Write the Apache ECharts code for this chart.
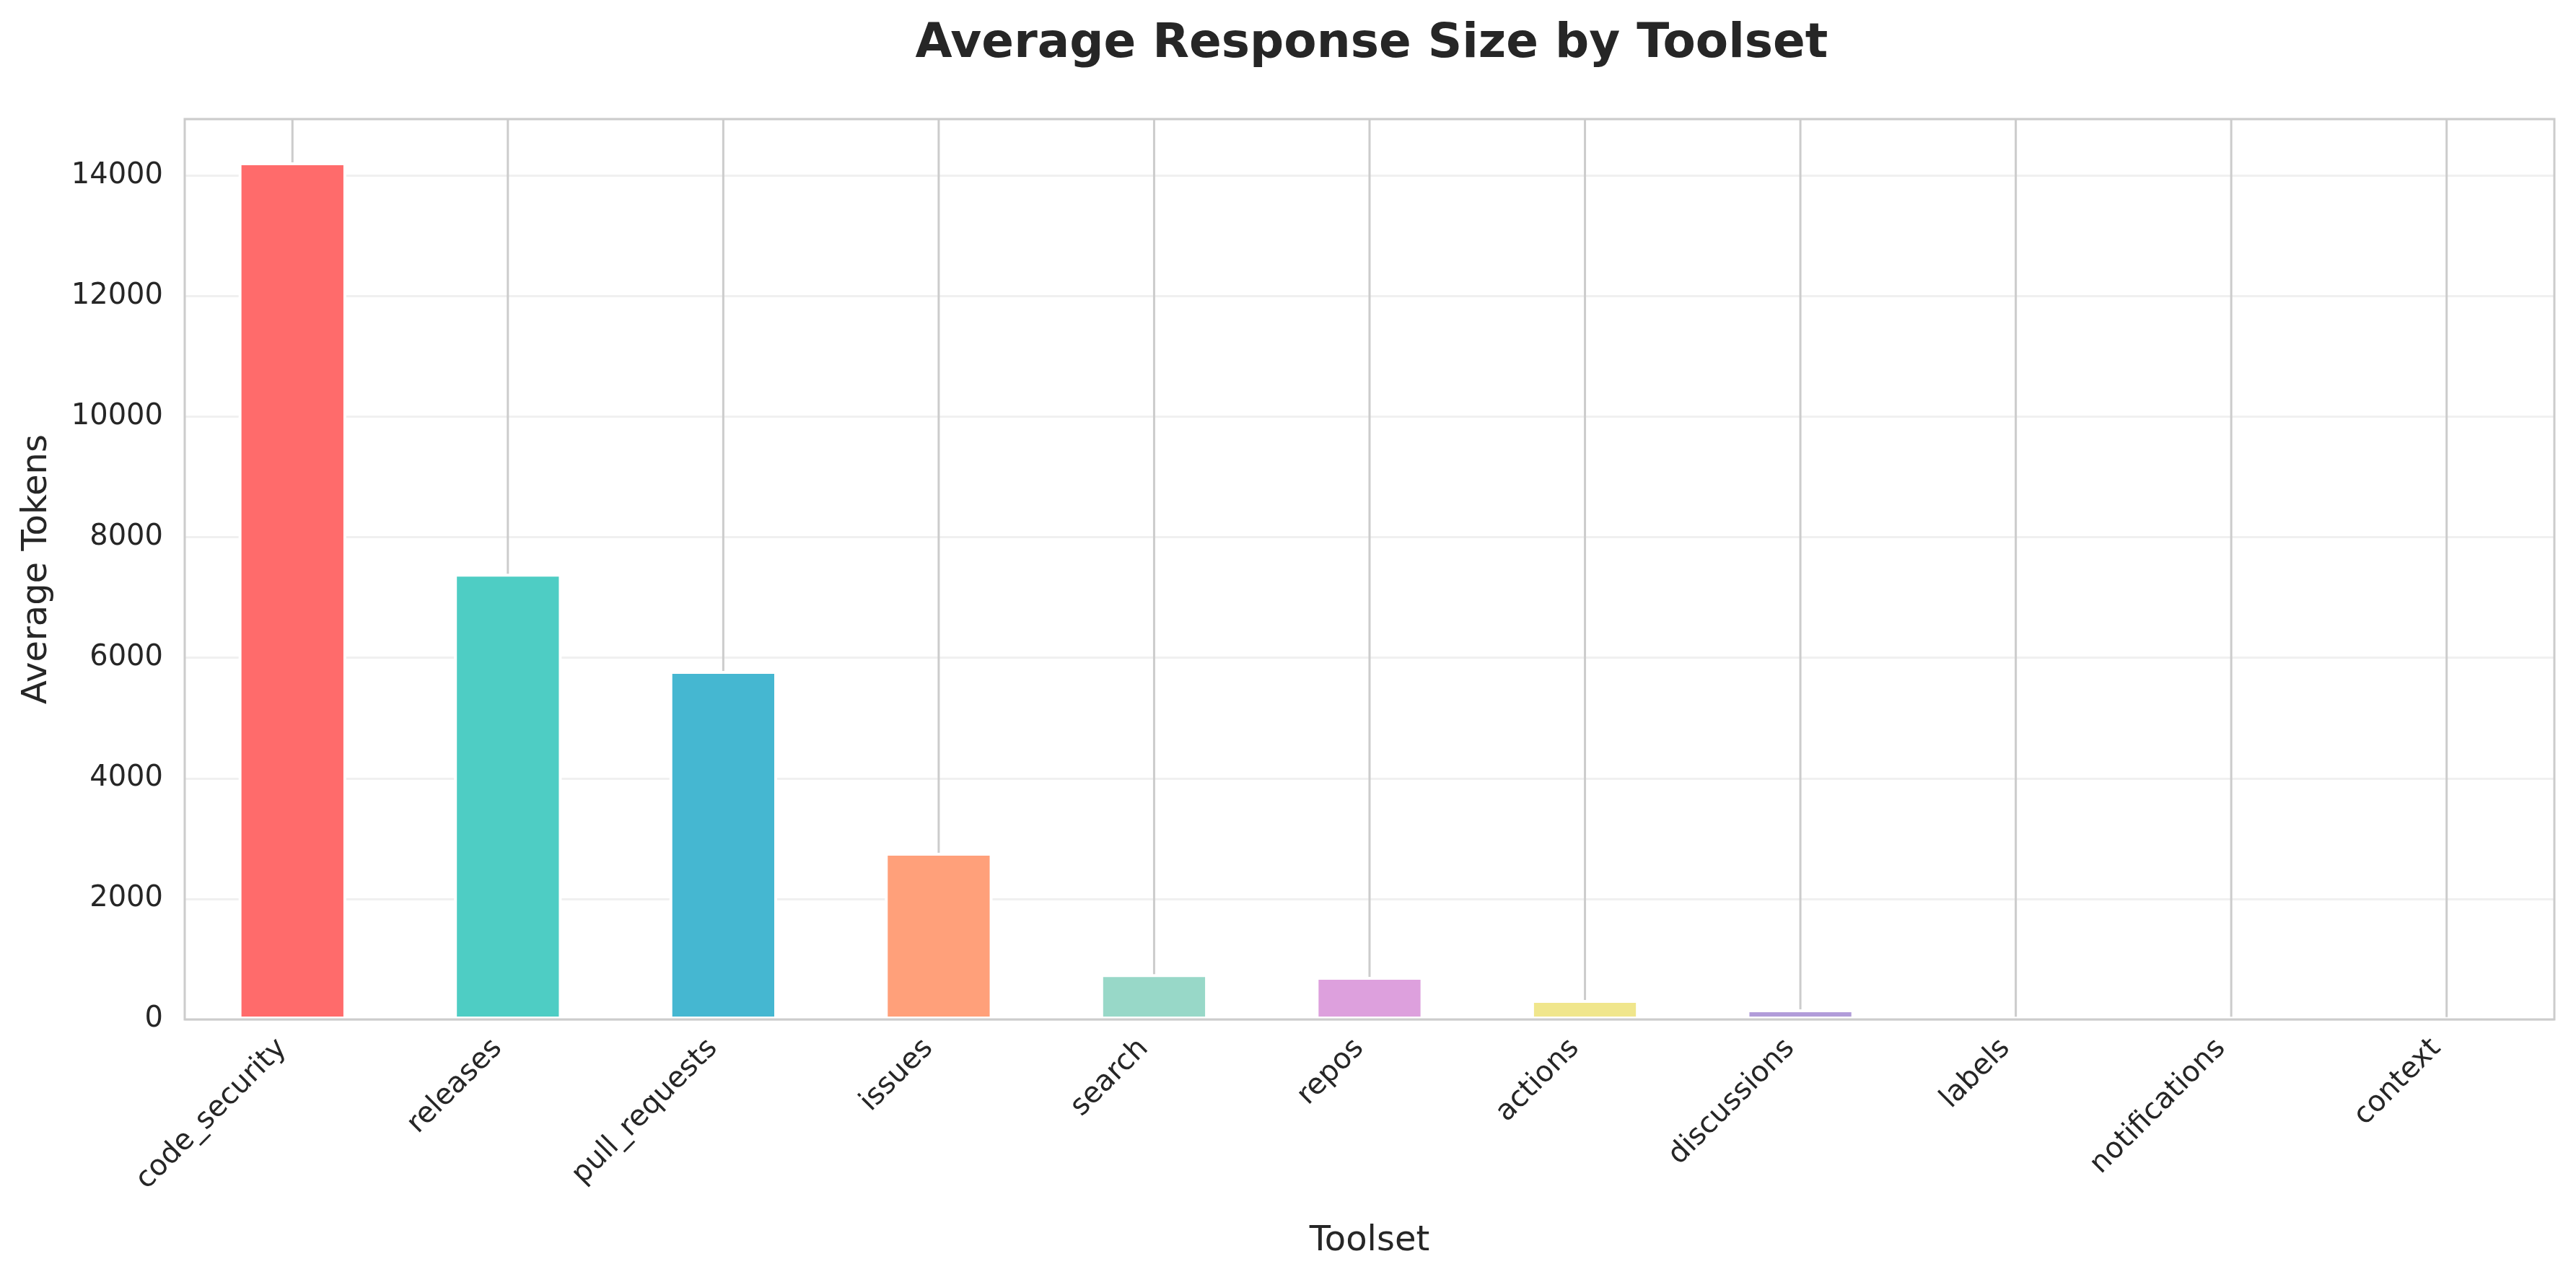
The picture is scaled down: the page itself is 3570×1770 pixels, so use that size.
<!DOCTYPE html>
<html>
<head>
<meta charset="utf-8">
<script src="https://cdn.jsdelivr.net/npm/echarts@6/dist/echarts.min.js"></script>
<style>
  html, body { margin: 0; padding: 0; background: #fff; }
  #chart { width: 3570px; height: 1770px; }
</style>
</head>
<body>
<div id="chart"></div>
<script>
const categories = ['code_security', 'releases', 'pull_requests', 'issues', 'search', 'repos', 'actions', 'discussions', 'labels', 'notifications', 'context'];
const avgTokens = [14220, 7395, 5780, 2765, 752, 706, 323, 168, 40, 40, 28];
const barColors = ['#FF6B6B', '#4ECDC4', '#45B7D1', '#FFA07A', '#98D8C8', '#DDA0DD', '#F0E68C', '#B19CD9', '#85C1E9', '#F8B739', '#52B788'];
const yTicks = [0, 2000, 4000, 6000, 8000, 10000, 12000, 14000];

const FONT = 'DejaVu Sans';
const TXT = '#262626';

const chart = echarts.init(document.getElementById('chart'), null, { renderer: 'canvas' });

chart.setOption({
  backgroundColor: '#ffffff',
  animation: false,
  title: {
    text: 'Average Response Size by Toolset',
    left: 1896,
    textAlign: 'center',
    top: 24,
    textStyle: { fontFamily: FONT, fontSize: 66, fontWeight: 'bold', color: TXT }
  },
  grid: {
    left: 256, right: 30, top: 165, bottom: 357,
    show: true, z: 10,
    backgroundColor: 'transparent',
    borderColor: '#cccccc', borderWidth: 3,
    containLabel: false
  },
  xAxis: {
    type: 'category',
    data: categories,
    name: 'Toolset',
    nameLocation: 'middle',
    nameGap: 284,
    nameTextStyle: { fontFamily: FONT, fontSize: 48, color: TXT },
    axisLine: { show: false },
    axisTick: { show: false },
    splitLine: { show: false },
    axisLabel: {
      interval: 0, rotate: 45, margin: 48,
      verticalAlign: 'bottom',
      fontFamily: FONT, fontSize: 40, color: TXT
    }
  },
  yAxis: {
    type: 'value',
    min: 0, max: 14937, interval: 2000,
    name: 'Average Tokens',
    nameLocation: 'middle',
    nameGap: 180,
    nameTextStyle: { fontFamily: FONT, fontSize: 48, color: TXT },
    axisLine: { show: false },
    axisTick: { show: false },
    axisLabel: {
      margin: 30, showMaxLabel: false,
      fontFamily: FONT, fontSize: 40, color: TXT,
      formatter: v => (yTicks.indexOf(v) >= 0 ? String(v) : '')
    },
    splitLine: { show: true, lineStyle: { color: '#f0f0f0', width: 3 } }
  },
  series: [
    {
      type: 'custom',
      z: 1,
      silent: true,
      data: categories.map((c, i) => [i]),
      renderItem: function (params, api) {
        const cs = params.coordSys;
        const x = api.coord([api.value(0), 0])[0];
        return {
          type: 'line',
          shape: { x1: x, y1: cs.y, x2: x, y2: cs.y + cs.height },
          style: { stroke: '#cccccc', lineWidth: 3 }
        };
      }
    },
    {
      type: 'bar',
      z: 2,
      barWidth: '50%',
      data: avgTokens.map((v, i) => ({ value: v, itemStyle: { color: barColors[i] } })),
      itemStyle: { borderColor: '#ffffff', borderWidth: 4 }
    }
  ]
});
</script>
</body>
</html>
